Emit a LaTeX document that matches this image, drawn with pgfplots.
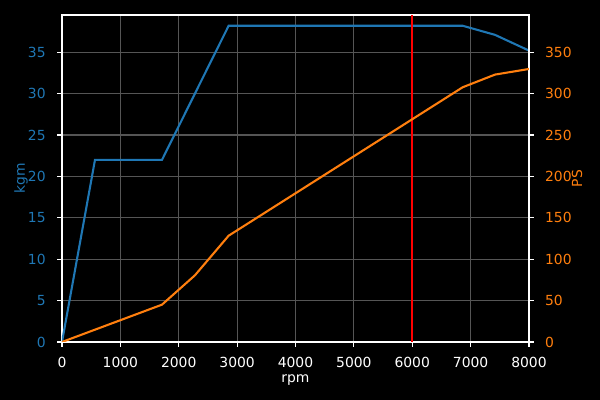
\documentclass[border=0pt]{standalone}
\usepackage{pgfplots}
\pgfplotsset{compat=1.18}
\usepackage{fontspec}
\setmainfont{DejaVu Sans}
\definecolor{mblue}{HTML}{1F77B4}
\definecolor{morange}{HTML}{FF7F0E}
\definecolor{mgrid}{HTML}{555555}
\begin{document}
\begin{tikzpicture}
\path[use as bounding box, fill=black] (-44.64pt,-41.76pt) rectangle (387.36pt,246.24pt);
\pgfplotsset{
  common/.style={
    at={(0,0)}, anchor=south west,
    scale only axis, width=336.24pt, height=235.44pt,
    xmin=0, xmax=8000,
    tick align=outside, major tick length=3.5pt,
    font=\fontsize{10}{12}\selectfont,
    /pgf/number format/assume math mode=true,
    scaled ticks=false,
    xtick={0,1000,...,8000},
    xticklabel style={/pgf/number format/1000 sep={}},
  }
}
\begin{axis}[common,
  axis line style={white, line width=0.8pt},
  xtick pos=bottom, ytick pos=left,
  ymin=0, ymax=39.5,
  ytick={0,5,...,35},
  grid=major,
  major grid style={mgrid, line width=0.8pt},
  every tick/.style={white, line width=0.8pt},
  xticklabel style={white, anchor=base, inner sep=0pt, yshift=-14.9pt},
  yticklabel style={mblue, anchor=east, inner sep=0pt, xshift=-8.1pt},
  xlabel={rpm},
  ylabel={kgm},
  every axis x label/.style={at={(rel axis cs:0.5,0)}, anchor=base, yshift=-29.3pt, white, inner sep=0pt},
  every axis y label/.style={at={(rel axis cs:0,0.5)}, xshift=-29.5pt, rotate=90, anchor=center, mblue, inner sep=0pt},
]
\addplot[mblue, line width=1.5pt] coordinates {
(0,0) (565,22.0) (1713,22.0) (2855,38.2) (6864,38.2) (7418,37.1) (8000,35.2)
};
\addplot[red, line width=1.5pt] coordinates {(6000,0) (6000,39.5)};
\end{axis}
\begin{axis}[common,
  axis line style={white, line width=0.8pt},
  axis y line*=right,
  axis x line=none,
  ymin=0, ymax=395,
  ytick={0,50,...,350},
  every tick/.style={white, line width=0.8pt},
  yticklabel style={morange, anchor=west, inner sep=0pt, xshift=7.9pt},
  ylabel={PS},
  every axis y label/.style={at={(rel axis cs:1,0.5)}, xshift=34.6pt, rotate=90, anchor=center, morange, inner sep=0pt},
]
\addplot[morange, line width=1.5pt] coordinates {
(0,0) (1713,45.1) (2278,80.6) (2855,128.4) (6864,307.7) (7418,323.0) (8000,329.8)
};
\end{axis}
\end{tikzpicture}
\end{document}
